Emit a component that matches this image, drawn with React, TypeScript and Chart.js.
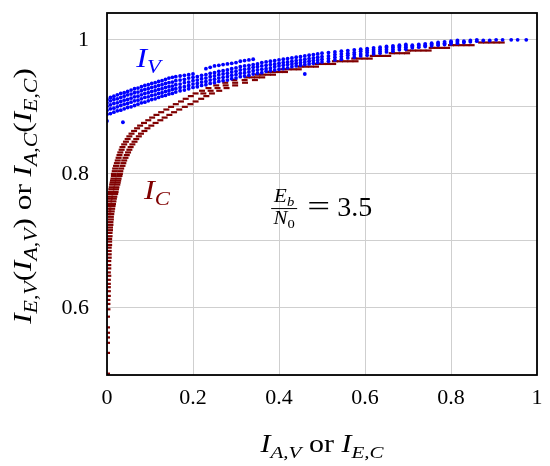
import React, { useEffect, useRef } from 'react';
import { Chart, registerables } from 'chart.js';

Chart.register(...registerables);

const FONT = '"Liberation Serif", "Times New Roman", serif';
const BLUE = '#0000ff';
const DARKRED = '#800000';

const xTicks = [0, 0.2, 0.4, 0.6, 0.8, 1];
const yGridTicks = [0.5, 0.6, 0.7, 0.8, 0.9, 1.0];
const yLabelTicks = [0.6, 0.8, 1.0];

// I_V : [x, list of y values at that x]
const ivGroups: [number, number[]][] = [
  [0.0, [0.879, 0.889, 0.895, 0.901, 0.906, 0.911]],
  [0.008, [0.89, 0.897, 0.903, 0.909, 0.914]],
  [0.016, [0.892, 0.898, 0.905, 0.911, 0.916]],
  [0.024, [0.894, 0.9, 0.906, 0.912, 0.918]],
  [0.032, [0.895, 0.902, 0.908, 0.914, 0.92]],
  [0.037, [0.877]],
  [0.04, [0.897, 0.904, 0.91, 0.916, 0.921]],
  [0.048, [0.899, 0.905, 0.911, 0.918, 0.923]],
  [0.056, [0.9, 0.907, 0.913, 0.919, 0.925]],
  [0.064, [0.902, 0.909, 0.915, 0.921, 0.927]],
  [0.072, [0.904, 0.91, 0.916, 0.922, 0.928]],
  [0.08, [0.906, 0.912, 0.918, 0.924, 0.93]],
  [0.088, [0.907, 0.914, 0.92, 0.926, 0.932]],
  [0.096, [0.909, 0.915, 0.921, 0.927, 0.933]],
  [0.104, [0.911, 0.917, 0.923, 0.929, 0.935]],
  [0.112, [0.912, 0.918, 0.924, 0.93, 0.936]],
  [0.12, [0.914, 0.92, 0.926, 0.932, 0.938]],
  [0.128, [0.916, 0.921, 0.927, 0.933, 0.939]],
  [0.136, [0.917, 0.923, 0.929, 0.935, 0.941]],
  [0.144, [0.919, 0.924, 0.93, 0.936, 0.943]],
  [0.152, [0.92, 0.926, 0.931, 0.937, 0.944]],
  [0.16, [0.922, 0.927, 0.933, 0.939, 0.945]],
  [0.17, [0.924, 0.929, 0.934, 0.94, 0.946]],
  [0.18, [0.925, 0.93, 0.936, 0.941, 0.947]],
  [0.19, [0.927, 0.932, 0.937, 0.943, 0.948]],
  [0.2, [0.929, 0.934, 0.939, 0.944, 0.949]],
  [0.21, [0.93, 0.935, 0.94, 0.945]],
  [0.22, [0.932, 0.937, 0.942, 0.947]],
  [0.23, [0.933, 0.938, 0.943, 0.948, 0.957]],
  [0.24, [0.935, 0.94, 0.945, 0.95, 0.959]],
  [0.25, [0.936, 0.941, 0.946, 0.951, 0.961]],
  [0.26, [0.938, 0.943, 0.948, 0.953, 0.962]],
  [0.27, [0.939, 0.944, 0.949, 0.954, 0.963]],
  [0.28, [0.94, 0.945, 0.95, 0.955, 0.964]],
  [0.29, [0.942, 0.947, 0.952, 0.957, 0.965]],
  [0.3, [0.943, 0.948, 0.953, 0.958, 0.966]],
  [0.31, [0.945, 0.95, 0.955, 0.96, 0.968]],
  [0.32, [0.946, 0.951, 0.956, 0.961, 0.969]],
  [0.33, [0.947, 0.952, 0.957, 0.962, 0.97]],
  [0.34, [0.949, 0.954, 0.959, 0.963, 0.971]],
  [0.35, [0.95, 0.955, 0.96, 0.964]],
  [0.36, [0.951, 0.956, 0.961, 0.966]],
  [0.37, [0.953, 0.957, 0.962, 0.967]],
  [0.38, [0.954, 0.958, 0.963, 0.968]],
  [0.39, [0.955, 0.96, 0.964, 0.969]],
  [0.4, [0.956, 0.961, 0.965, 0.97]],
  [0.41, [0.957, 0.962, 0.966, 0.971]],
  [0.42, [0.958, 0.963, 0.967, 0.972]],
  [0.43, [0.96, 0.964, 0.968, 0.973]],
  [0.44, [0.961, 0.965, 0.969, 0.974]],
  [0.45, [0.962, 0.966, 0.97, 0.975]],
  [0.46, [0.949, 0.963, 0.967, 0.971, 0.976]],
  [0.47, [0.964, 0.968, 0.972, 0.977]],
  [0.48, [0.965, 0.969, 0.973, 0.978]],
  [0.49, [0.966, 0.97, 0.974, 0.979]],
  [0.5, [0.967, 0.971, 0.975, 0.98]],
  [0.515, [0.968, 0.972, 0.976, 0.981]],
  [0.53, [0.97, 0.974, 0.978, 0.982]],
  [0.545, [0.971, 0.975, 0.979, 0.983]],
  [0.56, [0.973, 0.977, 0.98, 0.984]],
  [0.575, [0.974, 0.978, 0.981, 0.985]],
  [0.59, [0.976, 0.979, 0.983, 0.986]],
  [0.605, [0.977, 0.981, 0.984, 0.987]],
  [0.62, [0.979, 0.982, 0.985, 0.988]],
  [0.635, [0.98, 0.983, 0.986, 0.989]],
  [0.65, [0.982, 0.985, 0.988, 0.99]],
  [0.665, [0.983, 0.986, 0.989, 0.991]],
  [0.68, [0.985, 0.988, 0.99, 0.992]],
  [0.695, [0.986, 0.989, 0.991, 0.993]],
  [0.71, [0.988, 0.99, 0.992]],
  [0.725, [0.989, 0.991, 0.993]],
  [0.74, [0.99, 0.992, 0.994]],
  [0.755, [0.991, 0.993, 0.995]],
  [0.77, [0.992, 0.994, 0.996]],
  [0.785, [0.993, 0.995, 0.997]],
  [0.8, [0.994, 0.996, 0.998]],
  [0.815, [0.995, 0.997, 0.999]],
  [0.83, [0.996, 0.998]],
  [0.845, [0.997, 0.999]],
  [0.86, [0.998, 1.0]],
  [0.875, [0.999]],
  [0.89, [0.999]],
  [0.905, [1.0]],
  [0.92, [1.0]],
  [0.94, [1.0]],
  [0.955, [1.0]],
  [0.975, [1.0]],
];

// I_C : [y, list of x values on that row]
const icRows: [number, number[]][] = [
  [0.502, [0.0]],
  [0.533, [0.0]],
  [0.548, [0.0]],
  [0.556, [0.0]],
  [0.563, [0.0]],
  [0.571, [0.0]],
  [0.587, [0.0]],
  [0.598, [0.001]],
  [0.606, [0.001]],
  [0.612, [0.001]],
  [0.618, [0.002]],
  [0.625, [0.002]],
  [0.631, [0.002]],
  [0.636, [0.002]],
  [0.642, [0.002]],
  [0.648, [0.003]],
  [0.653, [0.002]],
  [0.659, [0.003]],
  [0.664, [0.003]],
  [0.67, [0.003]],
  [0.675, [0.004]],
  [0.68, [0.004]],
  [0.685, [0.004]],
  [0.69, [0.004]],
  [0.694, [0.005]],
  [0.699, [0.005]],
  [0.703, [0.005]],
  [0.707, [0.006]],
  [0.712, [0.006]],
  [0.716, [0.007]],
  [0.72, [0.007]],
  [0.724, [0.008]],
  [0.728, [0.008]],
  [0.732, [0.009]],
  [0.736, [0.009]],
  [0.74, [0.002, 0.01]],
  [0.744, [0.003, 0.011]],
  [0.748, [0.003, 0.012]],
  [0.752, [0.004, 0.013]],
  [0.755, [0.004, 0.014]],
  [0.759, [0.005, 0.015]],
  [0.763, [0.006, 0.016]],
  [0.766, [0.007, 0.017]],
  [0.77, [0.008, 0.019]],
  [0.773, [0.009, 0.02]],
  [0.777, [0.01, 0.021]],
  [0.78, [0.011, 0.022]],
  [0.784, [0.012, 0.024]],
  [0.787, [0.013, 0.025]],
  [0.79, [0.014, 0.026]],
  [0.793, [0.015, 0.027]],
  [0.797, [0.016, 0.029]],
  [0.8, [0.016, 0.03]],
  [0.804, [0.018, 0.031]],
  [0.808, [0.019, 0.033]],
  [0.812, [0.021, 0.036]],
  [0.816, [0.023, 0.038]],
  [0.82, [0.025, 0.04]],
  [0.824, [0.027, 0.043]],
  [0.828, [0.029, 0.046]],
  [0.832, [0.031, 0.049]],
  [0.836, [0.034, 0.052]],
  [0.84, [0.036, 0.055]],
  [0.844, [0.04, 0.059]],
  [0.848, [0.044, 0.064]],
  [0.852, [0.048, 0.068]],
  [0.856, [0.052, 0.074]],
  [0.86, [0.057, 0.079]],
  [0.864, [0.063, 0.087]],
  [0.868, [0.07, 0.094]],
  [0.872, [0.077, 0.103]],
  [0.876, [0.086, 0.113]],
  [0.88, [0.096, 0.124]],
  [0.884, [0.105, 0.134]],
  [0.888, [0.115, 0.145]],
  [0.892, [0.126, 0.156]],
  [0.896, [0.138, 0.168]],
  [0.9, [0.149, 0.181]],
  [0.904, [0.16, 0.194]],
  [0.908, [0.172, 0.206]],
  [0.912, [0.183, 0.219]],
  [0.916, [0.195, 0.231]],
  [0.92, [0.206, 0.224, 0.244]],
  [0.924, [0.221, 0.241, 0.261]],
  [0.928, [0.236, 0.257, 0.278]],
  [0.932, [0.254, 0.276, 0.298]],
  [0.936, [0.275, 0.298, 0.321]],
  [0.94, [0.296, 0.32, 0.344]],
  [0.944, [0.325, 0.337, 0.349, 0.361]],
  [0.948, [0.35, 0.362, 0.374, 0.386]],
  [0.952, [0.378, 0.39, 0.402, 0.414]],
  [0.956, [0.41, 0.422, 0.434, 0.446]],
  [0.96, [0.45, 0.462, 0.474, 0.486]],
  [0.964, [0.49, 0.502, 0.514, 0.526]],
  [0.968, [0.53, 0.542, 0.554, 0.566, 0.578]],
  [0.972, [0.575, 0.587, 0.599, 0.611]],
  [0.976, [0.618, 0.63, 0.642, 0.654]],
  [0.98, [0.662, 0.674, 0.686, 0.698]],
  [0.984, [0.7, 0.712, 0.724, 0.736, 0.748]],
  [0.988, [0.755, 0.767, 0.779, 0.791]],
  [0.992, [0.8, 0.812, 0.824, 0.836, 0.848]],
  [0.996, [0.87, 0.882, 0.894, 0.906, 0.918]],
];

type Part = { t: string; it?: boolean; sub?: boolean };

function partFont(p: Part, size: number) {
  const s = p.sub ? size * 0.7 : size;
  return `${p.it ? 'italic ' : ''}${s}px ${FONT}`;
}

function drawMath(
  ctx: CanvasRenderingContext2D,
  parts: Part[],
  x: number,
  y: number,
  size: number,
  color: string,
  align: 'left' | 'center',
  stretch = 1
) {
  ctx.save();
  ctx.fillStyle = color;
  ctx.textBaseline = 'alphabetic';
  ctx.textAlign = 'left';
  const widths = parts.map((p) => {
    ctx.font = partFont(p, size);
    return ctx.measureText(p.t).width;
  });
  const total = widths.reduce((a, b) => a + b, 0) * stretch;
  const x0 = align === 'center' ? x - total / 2 : x;
  ctx.translate(x0, y);
  ctx.scale(stretch, 1);
  let cx = 0;
  parts.forEach((p, i) => {
    ctx.font = partFont(p, size);
    ctx.fillText(p.t, cx, p.sub ? size * 0.22 : 0);
    cx += widths[i];
  });
  ctx.restore();
}

const xTitle: Part[] = [
  { t: 'I', it: true },
  { t: 'A,V', it: true, sub: true },
  { t: ' or ' },
  { t: 'I', it: true },
  { t: 'E,C', it: true, sub: true },
];

const yTitle: Part[] = [
  { t: 'I', it: true },
  { t: 'E,V', it: true, sub: true },
  { t: '(' },
  { t: 'I', it: true },
  { t: 'A,V', it: true, sub: true },
  { t: ') or ' },
  { t: 'I', it: true },
  { t: 'A,C', it: true, sub: true },
  { t: '(' },
  { t: 'I', it: true },
  { t: 'E,C', it: true, sub: true },
  { t: ')' },
];

const overlayPlugin = {
  id: 'overlay',
  afterDatasetsDraw(chart: any) {
    const { ctx, chartArea } = chart;
    ctx.save();
    ctx.strokeStyle = '#000';
    ctx.lineWidth = 1.8;
    ctx.strokeRect(chartArea.left, chartArea.top, chartArea.right - chartArea.left, chartArea.bottom - chartArea.top);
    ctx.restore();
  },
  afterDraw(chart: any) {
    const { ctx, chartArea } = chart;
    const xs = chart.scales.x;
    const ys = chart.scales.y;
    // axis titles
    drawMath(ctx, xTitle, (chartArea.left + chartArea.right) / 2, 452, 25, '#000', 'center', 1.2);
    ctx.save();
    ctx.translate(31, (chartArea.top + chartArea.bottom) / 2 + 2);
    ctx.rotate(-Math.PI / 2);
    drawMath(ctx, yTitle, 0, 0, 26, '#000', 'center', 1.2);
    ctx.restore();

    // series labels
    drawMath(ctx, [{ t: 'I', it: true }, { t: 'V', it: true, sub: true }], xs.getPixelForValue(0.068), ys.getPixelForValue(0.96), 27, BLUE, 'left', 1.2);
    drawMath(ctx, [{ t: 'I', it: true }, { t: 'C', it: true, sub: true }], xs.getPixelForValue(0.086), ys.getPixelForValue(0.763), 27, DARKRED, 'left', 1.2);

    // Eb/N0 = 3.5
    const fx = xs.getPixelForValue(0.412);
    const fy = ys.getPixelForValue(0.749);
    drawMath(ctx, [{ t: 'E', it: true }, { t: 'b', it: true, sub: true }], fx, fy - 6, 19, '#000', 'center', 1.1);
    ctx.save();
    ctx.strokeStyle = '#000';
    ctx.lineWidth = 1;
    ctx.beginPath();
    ctx.moveTo(fx - 13, fy + 0.5);
    ctx.lineTo(fx + 13, fy + 0.5);
    ctx.stroke();
    ctx.restore();
    drawMath(ctx, [{ t: 'N', it: true }, { t: '0', sub: true }], fx, fy + 16, 19, '#000', 'center', 1.1);
    drawMath(ctx, [{ t: '=' }], fx + 23, fy + 8, 30, '#000', 'left', 1.35);
    drawMath(ctx, [{ t: '3.5' }], fx + 53, fy + 8, 28, '#000', 'left');
  },
};

export default function App() {
  const ref = useRef<HTMLCanvasElement>(null);

  useEffect(() => {
    document.body.style.margin = '0';
    const ivData = ivGroups.flatMap(([x, ys]) => ys.map((y) => ({ x, y })));
    const icData = icRows.flatMap(([y, xs]) => xs.map((x) => ({ x, y })));

    const chart = new Chart(ref.current as HTMLCanvasElement, {
      type: 'scatter',
      data: {
        datasets: [
          {
            label: 'I_V',
            data: ivData,
            pointStyle: 'circle',
            pointRadius: 1.9,
            pointBorderWidth: 0,
            backgroundColor: BLUE,
            borderColor: BLUE,
            showLine: false,
          },
          {
            label: 'I_C',
            data: icData,
            pointStyle: 'line',
            pointRadius: 3,
            pointBorderWidth: 2.2,
            backgroundColor: DARKRED,
            borderColor: DARKRED,
            showLine: false,
          },
        ],
      },
      options: {
        animation: false,
        responsive: false,
        events: [],
        layout: { padding: { top: 13, right: 13, left: 0, bottom: 0 } },
        plugins: {
          legend: { display: false },
          tooltip: { enabled: false },
          title: { display: false },
        },
        scales: {
          x: {
            type: 'linear',
            min: 0,
            max: 1,
            afterBuildTicks: (s: any) => {
              s.ticks = xTicks.map((v) => ({ value: v }));
            },
            afterFit: (s: any) => {
              s.height = 91;
              s.paddingLeft = 0;
              s.paddingRight = 0;
            },
            ticks: {
              font: { family: FONT, size: 22 },
              color: '#000',
              padding: 10,
              maxRotation: 0,
              callback: (v: any) => (v === 0 ? '0' : v === 1 ? '1' : Number(v).toFixed(1)),
            },
            grid: { color: '#cfcfcf', lineWidth: 1, drawTicks: false },
            border: { display: false },
          },
          y: {
            type: 'linear',
            min: 0.5,
            max: 1.04,
            afterBuildTicks: (s: any) => {
              s.ticks = yGridTicks.map((v) => ({ value: v }));
            },
            afterFit: (s: any) => {
              s.width = 107;
              s.paddingTop = 0;
              s.paddingBottom = 0;
            },
            ticks: {
              font: { family: FONT, size: 22 },
              color: '#000',
              padding: 18,
              callback: (v: any) =>
                yLabelTicks.some((t) => Math.abs(t - v) < 1e-9) ? (Math.abs(v - 1) < 1e-9 ? '1' : Number(v).toFixed(1)) : '',
            },
            grid: { color: '#cfcfcf', lineWidth: 1, drawTicks: false },
            border: { display: false },
          },
        },
      },
      plugins: [overlayPlugin],
    });
    return () => chart.destroy();
  }, []);

  return (
    <div style={{ width: 550, height: 466 }}>
      <canvas ref={ref} width={550} height={466} style={{ display: 'block' }} />
    </div>
  );
}
